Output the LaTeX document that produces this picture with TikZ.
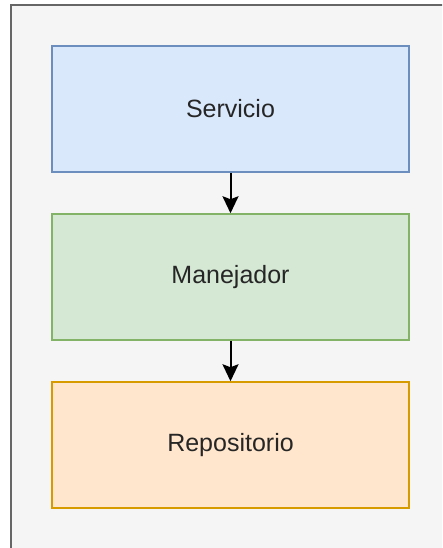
\documentclass[tikz,border=0pt]{standalone}
\usepackage{fontspec}
\setmainfont{Liberation Sans}
\usetikzlibrary{arrows.meta}
\definecolor{panelfill}{HTML}{F5F5F5}
\definecolor{paneldraw}{HTML}{666666}
\definecolor{bluefill}{HTML}{DAE8FC}
\definecolor{bluedraw}{HTML}{6C8EBF}
\definecolor{greenfill}{HTML}{D5E8D4}
\definecolor{greendraw}{HTML}{82B366}
\definecolor{orangefill}{HTML}{FFE6CC}
\definecolor{orangedraw}{HTML}{D79B00}
\tikzset{
  layer/.style={rectangle, minimum width=357pt, minimum height=126pt,
    line width=1.5pt, inner sep=0pt, font=\fontsize{25}{30}\selectfont, text=black!85},
  flow/.style={line width=2pt, -{Stealth[width=16pt,length=17pt,inset=3pt]}}
}
\begin{document}
\begin{tikzpicture}[x=1pt,y=-1pt]
  \useasboundingbox (0,0) rectangle (442,548);
  \begin{scope}
    \clip (0,0) rectangle (442,548);
    \draw[fill=panelfill, draw=paneldraw, line width=2pt] (11,5) rectangle (452,560);
  \end{scope}
  \node[layer, fill=bluefill, draw=bluedraw] (svc) at (230.5,109) {Servicio};
  \node[layer, fill=greenfill, draw=greendraw] (mgr) at (230.5,277) {Manejador};
  \node[layer, fill=orangefill, draw=orangedraw] (repo) at (230.5,445) {Repositorio};
  \draw[flow] (svc) -- (mgr);
  \draw[flow] (mgr) -- (repo);
\end{tikzpicture}
\end{document}
